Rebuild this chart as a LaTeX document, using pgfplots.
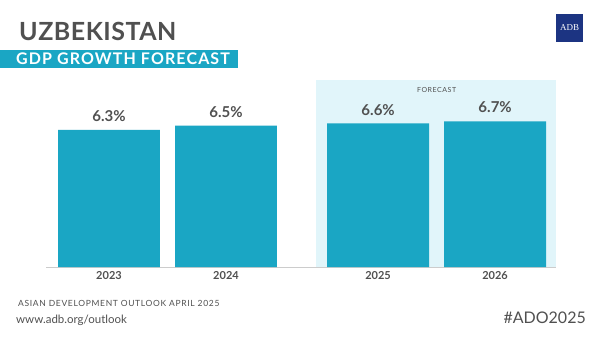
\documentclass[border=0pt]{standalone}
\usepackage{pgfplots}
\pgfplotsset{compat=1.18}
\usepackage{fontspec}
\setmainfont{Lato}
\definecolor{bar}{RGB}{26,166,196}
\definecolor{band}{RGB}{225,245,250}
\definecolor{txt}{RGB}{80,80,80}
\definecolor{adb}{RGB}{28,52,130}
\begin{document}
\begin{tikzpicture}[x=1bp,y=1bp]
\useasboundingbox (0,0) rectangle (600,337);
\fill[white] (0,0) rectangle (600,337);
\coordinate (O) at (109,70);
% title
\node[anchor=base west,inner sep=0,text=txt] at (19,297) {\fontsize{25bp}{30bp}\selectfont\bfseries\addfontfeature{LetterSpace=2}UZBEKISTAN};
\fill[bar] (0,269) rectangle (238,287);
\node[anchor=base west,inner sep=0,text=white] at (16,272.5) {\fontsize{16bp}{18bp}\selectfont\bfseries\addfontfeature{LetterSpace=7}GDP GROWTH FORECAST};
% logo
\fill[adb] (556,295) rectangle (583,323);
\node[text=white,inner sep=0] at (569.5,309) {\fontsize{9bp}{10bp}\selectfont\fontspec{Liberation Serif}ADB};
% footer
\node[anchor=base west,inner sep=0,text=txt] at (18,31) {\fontsize{8.5bp}{10bp}\selectfont\addfontfeature{LetterSpace=8}ASIAN DEVELOPMENT OUTLOOK APRIL 2025};
\node[anchor=base west,inner sep=0,text=txt] at (16,14) {\fontsize{11.5bp}{13bp}\selectfont www.adb.org/outlook};
\node[anchor=base east,inner sep=0,text=txt] at (586,14) {\fontsize{16bp}{18bp}\selectfont\#ADO2025};
\begin{axis}[
  at={(O)}, anchor=origin,
  x=117bp, y=21.75bp,
  xmin=-0.538, xmax=3.82, ymin=0, ymax=8.6,
  axis x line=bottom, axis y line=none,
  x axis line style={draw=black!20,-},
  xtick={0,1,2.3,3.3}, xticklabels={2023,2024,2025,2026},
  major tick length=0pt,
  tick label style={font=\fontsize{11bp}{13bp}\selectfont\bfseries, text=txt},
  xticklabel style={yshift=-1bp},
  /pgf/number format/assume math mode=true,
  clip=false,
]
\fill[band] (axis cs:1.77,0) rectangle (axis cs:3.82,8.6);
\node[text=txt,font=\fontsize{7bp}{8bp}\selectfont\addfontfeature{LetterSpace=8}] at (axis cs:2.80,8.15) {FORECAST};
\addplot[ybar, bar width=0.87, fill=bar, draw=none,
  nodes near coords={\pgfmathprintnumber[fixed,precision=1,fixed zerofill,assume math mode=true]{\pgfplotspointmeta}\%},
  every node near coord/.append style={font=\fontsize{15bp}{17bp}\selectfont\bfseries, text=txt, anchor=south, inner sep=0, yshift=8bp}]
 coordinates {(0,6.3) (1,6.5) (2.3,6.6) (3.3,6.7)};
\end{axis}
\end{tikzpicture}
\end{document}
